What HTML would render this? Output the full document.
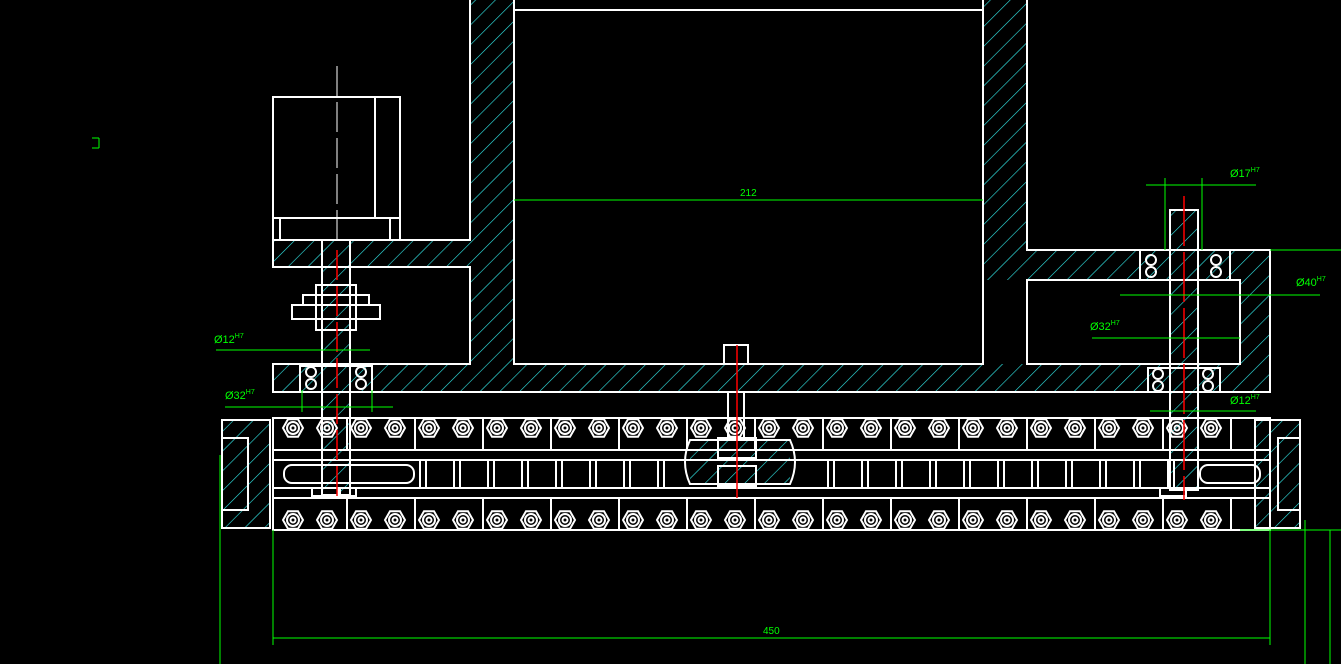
<!DOCTYPE html>
<html><head><meta charset="utf-8"><style>
html,body{margin:0;padding:0;background:#000;width:1341px;height:664px;overflow:hidden}
svg{display:block}
text{font-family:"Liberation Sans",sans-serif;fill:#0f0}
</style></head><body>
<svg id="s" width="1341" height="664" viewBox="0 0 1341 664" xmlns="http://www.w3.org/2000/svg">
<defs>
<pattern id="h" patternUnits="userSpaceOnUse" width="14" height="14" patternTransform="rotate(45)">
<rect width="14" height="14" fill="#000"/>
<line x1="0" y1="0" x2="0" y2="14" stroke="#3ee" stroke-width="1.2"/>
</pattern>
</defs>
<g fill="url(#h)" stroke="none">
<rect x="470" y="0" width="44" height="392"/>
<rect x="983" y="0" width="44" height="280"/>
<rect x="273" y="364" width="997" height="28"/>
<rect x="273" y="240" width="197" height="27"/>
<rect x="1027" y="250" width="243" height="30"/>
<rect x="1240" y="280" width="30" height="100"/>
<rect x="322" y="240" width="28" height="255"/>
<rect x="1170" y="210" width="28" height="280"/>
<rect x="222" y="420" width="48" height="108"/>
<rect x="1255" y="420" width="45" height="108"/>
<rect x="690" y="440" width="100" height="44"/>
</g>
<g id="chain" stroke="#fff" stroke-width="2" fill="none"></g>
<g fill="none" stroke="#fff" stroke-width="2">
<path d="M470 0 V240 H273 V267 H470 V364 H273 V392 H1270 V250 H1027 V0"/>
<path d="M514 0 V364 H983 V0"/>
<line x1="514" y1="10" x2="983" y2="10"/>
<rect x="1027" y="280" width="213" height="84"/>
<rect x="273" y="97" width="127" height="143"/>
<line x1="375" y1="97" x2="375" y2="218"/>
<line x1="273" y1="218" x2="400" y2="218"/>
<rect x="280" y="218" width="110" height="22"/>
<rect x="322" y="240" width="28" height="255"/>
<rect x="292" y="305" width="88" height="14"/>
<rect x="303" y="295" width="66" height="10"/>
<rect x="316" y="285" width="40" height="45"/>
<rect x="300" y="366" width="72" height="26"/>
<circle cx="311" cy="372" r="5"/><circle cx="311" cy="384" r="5"/>
<circle cx="361" cy="372" r="5"/><circle cx="361" cy="384" r="5"/>
<path d="M1170 250 V210 H1198 V250"/>
<rect x="1170" y="250" width="28" height="240"/>
<rect x="1140" y="250" width="90" height="30"/>
<circle cx="1151" cy="260" r="5"/><circle cx="1151" cy="272" r="5"/>
<circle cx="1216" cy="260" r="5"/><circle cx="1216" cy="272" r="5"/>
<rect x="1148" y="368" width="72" height="24"/>
<circle cx="1158" cy="374" r="5"/><circle cx="1158" cy="386" r="5"/>
<circle cx="1208" cy="374" r="5"/><circle cx="1208" cy="386" r="5"/>
<rect x="724" y="345" width="24" height="19"/>
<rect x="728" y="392" width="16" height="48"/>
<rect x="273" y="418" width="997" height="112"/>
<line x1="273" y1="450" x2="1270" y2="450"/>
<line x1="273" y1="460" x2="1270" y2="460"/>
<line x1="273" y1="488" x2="1270" y2="488"/>
<line x1="273" y1="498" x2="1270" y2="498"/>
<rect x="284" y="465" width="130" height="18" rx="8"/>
<rect x="1200" y="465" width="60" height="18" rx="8"/>
<path d="M690 440 Q680 462 690 484 H790 Q800 462 790 440 Z"/>
<rect x="718" y="438" width="38" height="20"/>
<rect x="718" y="466" width="38" height="20"/>
<rect x="222" y="420" width="48" height="108"/>
<rect x="222" y="438" width="26" height="72"/>
<rect x="1255" y="420" width="45" height="108"/>
<rect x="1278" y="438" width="22" height="72"/>
<rect x="312" y="488" width="26" height="8"/><rect x="340" y="488" width="16" height="8"/>
<rect x="1160" y="488" width="26" height="8"/>
</g>
<g stroke="#f00" stroke-width="1.5">
<line x1="737" y1="345" x2="737" y2="498"/>
<line x1="337" y1="250" x2="337" y2="500" stroke-dasharray="30 6"/>
<line x1="1184" y1="196" x2="1184" y2="500" stroke-dasharray="50 6"/>
</g>
<line x1="337" y1="66" x2="337" y2="240" stroke="#fff" stroke-width="1" stroke-dasharray="30 6"/>
<g stroke="#0f0" stroke-width="1" fill="none">
<line x1="514" y1="200" x2="983" y2="200"/>
<line x1="273" y1="638" x2="1270" y2="638"/>
<line x1="273" y1="530" x2="273" y2="645"/><line x1="1270" y1="530" x2="1270" y2="645"/>
<line x1="220" y1="455" x2="220" y2="664"/>
<line x1="1330" y1="530" x2="1330" y2="664"/>
<line x1="1305" y1="520" x2="1305" y2="664"/>
<line x1="1240" y1="530" x2="1341" y2="530"/>
<line x1="1270" y1="250" x2="1341" y2="250"/>
<line x1="216" y1="350" x2="370" y2="350"/>
<line x1="225" y1="407" x2="393" y2="407"/>
<line x1="1146" y1="185" x2="1256" y2="185"/>
<line x1="1165" y1="178" x2="1165" y2="250"/><line x1="1202" y1="178" x2="1202" y2="250"/>
<line x1="1120" y1="295" x2="1320" y2="295"/>
<line x1="1092" y1="338" x2="1240" y2="338"/>
<line x1="1150" y1="411" x2="1256" y2="411"/>
<line x1="302" y1="390" x2="302" y2="412"/><line x1="372" y1="390" x2="372" y2="412"/>
<line x1="92" y1="138" x2="99" y2="138"/><line x1="99" y1="138" x2="99" y2="148"/><line x1="92" y1="148" x2="99" y2="148"/>
</g>
<text x="740" y="196" font-size="10">212</text>
<text x="763" y="634" font-size="10">450</text>
<text x="214" y="343" font-size="11">Ø12<tspan font-size="7" dy="-5">H7</tspan></text>
<text x="225" y="399" font-size="11">Ø32<tspan font-size="7" dy="-5">H7</tspan></text>
<text x="1230" y="177" font-size="11">Ø17<tspan font-size="7" dy="-5">H7</tspan></text>
<text x="1296" y="286" font-size="11">Ø40<tspan font-size="7" dy="-5">H7</tspan></text>
<text x="1090" y="330" font-size="11">Ø32<tspan font-size="7" dy="-5">H7</tspan></text>
<text x="1230" y="404" font-size="11">Ø12<tspan font-size="7" dy="-5">H7</tspan></text>
</svg>
<script>
var g=document.getElementById('chain'),h='';
for(var x=347;x<1270;x+=68){h+='<line x1="'+x+'" y1="418" x2="'+x+'" y2="450"/><line x1="'+x+'" y1="498" x2="'+x+'" y2="530"/>';}
for(var x=420;x<1170;x+=34){if(x>680&&x<800)continue;h+='<line x1="'+x+'" y1="460" x2="'+x+'" y2="488"/><line x1="'+(x+6)+'" y1="460" x2="'+(x+6)+'" y2="488"/>';}
function hex(cx,cy,r){var p=[];for(var i=0;i<6;i++){var a=Math.PI/3*i;p.push((cx+r*Math.cos(a)).toFixed(1)+','+(cy+r*Math.sin(a)).toFixed(1));}return '<polygon points="'+p.join(' ')+'"/>';}
for(var x=293;x<1235;x+=34){[428,520].forEach(function(y){
h+=hex(x,y,10)+'<circle cx="'+x+'" cy="'+y+'" r="6"/><circle cx="'+x+'" cy="'+y+'" r="2.5"/>';});}
g.innerHTML=h;
</script>
</body></html>
